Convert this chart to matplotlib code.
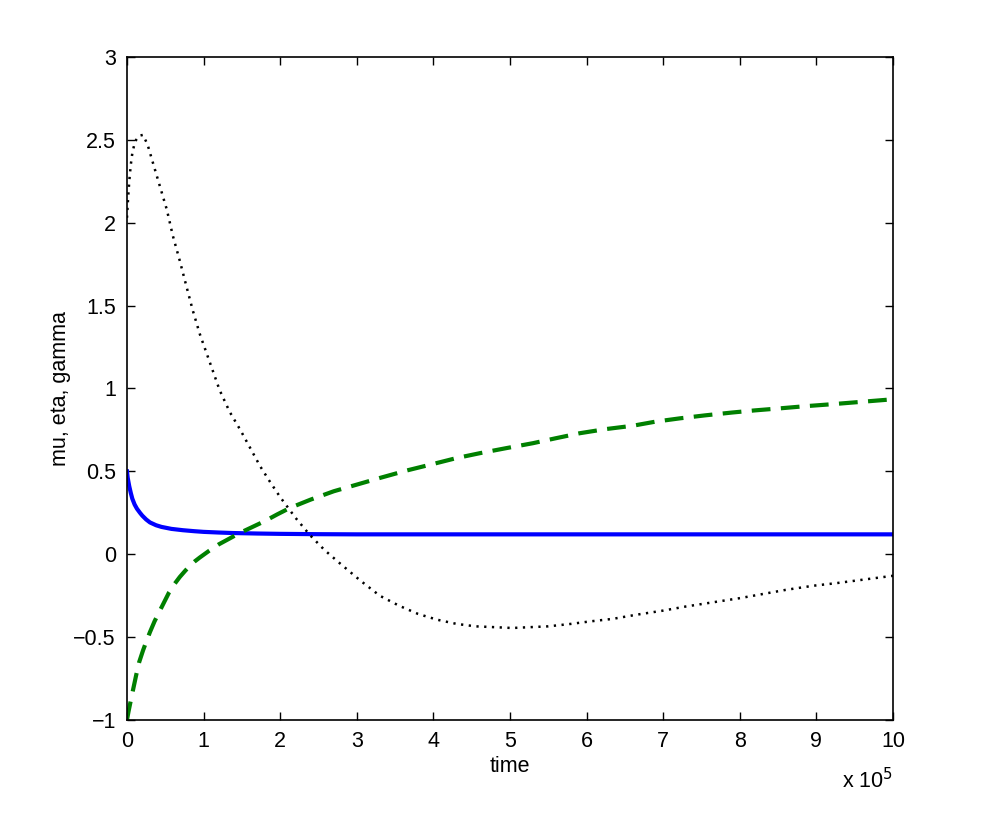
import matplotlib.pyplot as plt

plt.rcParams['font.family'] = ['Liberation Sans', 'DejaVu Sans']

# time in units of 1e5
t_mu = [0, 0.01, 0.03, 0.05, 0.07, 0.1, 0.13, 0.17, 0.2, 0.25, 0.3, 0.38, 0.45, 0.58, 0.73, 0.88, 1.0, 1.2,
        1.38, 1.7, 2.0, 2.5, 3.0, 4.0, 5.0, 6.0, 7.0, 8.0, 9.0, 10.0]
mu = [0.5, 0.46, 0.41, 0.37, 0.335, 0.3, 0.275, 0.25, 0.233, 0.21, 0.192, 0.175, 0.165, 0.153, 0.145, 0.139,
      0.135, 0.131, 0.128, 0.125, 0.123, 0.121, 0.12, 0.12, 0.12, 0.12, 0.12, 0.12, 0.12, 0.12]

t_eta = [0, 0.01, 0.02, 0.04, 0.06, 0.09, 0.12, 0.16, 0.21, 0.25, 0.3, 0.36, 0.43, 0.49, 0.55, 0.62, 0.69,
         0.76, 0.82, 0.88, 0.95, 1.07, 1.2, 1.34, 1.48, 1.64, 1.8, 1.96, 2.13, 2.4, 2.7, 3.0, 3.3, 3.65, 4.0,
         4.3, 4.61, 4.95, 5.3, 5.6, 5.91, 6.25, 6.6, 6.9, 7.22, 7.55, 7.9, 8.2, 8.52, 8.85, 9.2, 9.6, 10.0]
eta = [-1.0, -0.975, -0.95, -0.905, -0.86, -0.795, -0.73, -0.65, -0.58, -0.53, -0.47, -0.405, -0.34, -0.285,
       -0.23, -0.18, -0.137, -0.1, -0.07, -0.045, -0.02, 0.02, 0.06, 0.095, 0.13, 0.165, 0.2, 0.24, 0.28,
       0.33, 0.38, 0.42, 0.46, 0.505, 0.545, 0.58, 0.61, 0.64, 0.67, 0.7, 0.73, 0.755, 0.775, 0.8, 0.82,
       0.838, 0.855, 0.868, 0.88, 0.893, 0.905, 0.92, 0.935]

t_gamma = [0, 0.015, 0.03, 0.05, 0.07, 0.1, 0.12, 0.16, 0.21, 0.27, 0.34, 0.43, 0.52, 0.6, 0.69, 0.78, 0.86,
           0.95, 1.08, 1.21, 1.34, 1.48, 1.61, 1.74, 1.87, 2.0, 2.2, 2.39, 2.58, 2.78, 3.05, 3.3, 3.55, 3.8,
           4.05, 4.3, 4.55, 4.8, 5.03, 5.26, 5.5, 5.8, 6.05, 6.34, 6.65, 7.0, 7.3, 7.65, 8.0, 8.3, 8.6, 8.96,
           9.25, 9.5, 9.75, 10.0]
gamma = [2.03, 2.15, 2.25, 2.35, 2.42, 2.48, 2.5, 2.525, 2.53, 2.47, 2.36, 2.22, 2.08, 1.92, 1.77, 1.61, 1.47,
         1.33, 1.16, 0.99, 0.86, 0.75, 0.64, 0.53, 0.435, 0.345, 0.22, 0.115, 0.025, -0.055, -0.16, -0.25,
         -0.31, -0.36, -0.395, -0.42, -0.435, -0.44, -0.445, -0.44, -0.435, -0.42, -0.405, -0.39, -0.365,
         -0.34, -0.315, -0.29, -0.265, -0.24, -0.215, -0.19, -0.175, -0.16, -0.145, -0.13]

fig = plt.figure(figsize=(9.88, 8.13), dpi=100)
ax = fig.add_axes([0.1285, 0.1144, 0.7753, 0.8155])

ax.plot(t_mu, mu, color='#0000ff', lw=3)
ax.plot(t_eta, eta, color='#008000', lw=3, linestyle=(0, (4.5, 2.5)), dash_capstyle='butt')
ax.plot(t_gamma, gamma, color='black', lw=1.8, linestyle=(0, (0.9, 2.2)))

ax.set_xlim(0, 10)
ax.set_ylim(-1, 3)
ax.set_xticks(range(0, 11))
ax.set_yticks([-1, -0.5, 0, 0.5, 1, 1.5, 2, 2.5, 3])
ax.set_yticklabels(['\u22121', '\u22120.5', '0', '0.5', '1', '1.5', '2', '2.5', '3'])
ax.tick_params(direction='in', top=True, right=True, labelsize=15.5, length=6, width=1, pad=8)
for s in ax.spines.values():
    s.set_linewidth(1.2)

ax.set_xlabel('time', fontsize=15.5, labelpad=3)
ax.set_ylabel('mu, eta, gamma', fontsize=15.5, labelpad=2)
ax.text(1.0, -0.072, r'x 10$^{5}$', transform=ax.transAxes, ha='right', va='top', fontsize=15.5)

fig.savefig('out.png', dpi=100)
